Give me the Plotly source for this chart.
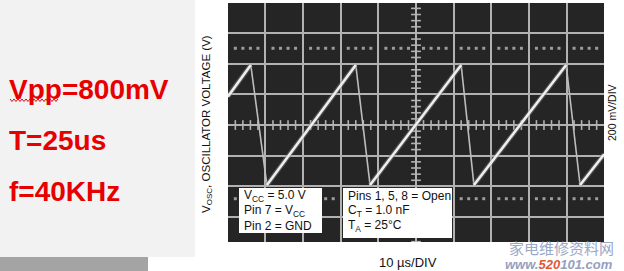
import plotly.graph_objects as go

W, H = 624, 271

# ---- data ----
time_us = [0, 6.1, 10.4, 34.0, 37.8, 62.0, 65.4, 89.9, 93.6, 100]
vosc_mV = [185, 391, -391, 391, -391, 391, -391, 391, -391, -190]

summary_lines = ["Vpp=800mV", "T=25us", "f=40KHz"]
box1_lines = ["V<sub>CC</sub> = 5.0 V", "Pin 7 = V<sub>CC</sub>", "Pin 2 = GND"]
box2_lines = ["Pins 1, 5, 8 = Open", "C<sub>T</sub> = 1.0 nF", "T<sub>A</sub> = 25°C"]

x_div_us = 10
y_div_mV = 200
x_range = [0.05, 99.95]
y_range = [-762, 795]
marker_rows_mV = [500, -480]


def px(x):
    return x / W


def py(y):
    return 1 - y / H


fig = go.Figure()

# rising (slow, bright) and falling (fast, dim) parts of the sawtooth
rx, ry, fx, fy = [], [], [], []
for i in range(len(time_us) - 1):
    seg_x = [time_us[i], time_us[i + 1], None]
    seg_y = [vosc_mV[i], vosc_mV[i + 1], None]
    if vosc_mV[i + 1] > vosc_mV[i]:
        rx += seg_x
        ry += seg_y
    else:
        fx += seg_x
        fy += seg_y

# graticule: minor ticks on centre lines and dotted 0%/100% rows
minor_x = [t for t in range(0, 101, 2) if t % x_div_us != 0]
minor_y = [v for v in range(-760, 800, 40) if v % y_div_mV != 0]
grid_col = "#b2b2b2"

fig.add_trace(go.Scatter(x=minor_x, y=[0] * len(minor_x), mode="markers",
                         marker=dict(symbol="line-ns", size=7, line=dict(width=1.6, color=grid_col)),
                         hoverinfo="skip", showlegend=False))
fig.add_trace(go.Scatter(x=[50] * len(minor_y), y=minor_y, mode="markers",
                         marker=dict(symbol="line-ew", size=7, line=dict(width=1.6, color=grid_col)),
                         hoverinfo="skip", showlegend=False))
for row in marker_rows_mV:
    fig.add_trace(go.Scatter(x=minor_x, y=[row] * len(minor_x), mode="markers",
                             marker=dict(symbol="square", size=3, color="#9c9c9c"),
                             hoverinfo="skip", showlegend=False))

fig.add_trace(go.Scatter(x=fx, y=fy, mode="lines", line=dict(color="#bdbdbd", width=1.6),
                         hoverinfo="skip", showlegend=False))
fig.add_trace(go.Scatter(x=rx, y=ry, mode="lines", line=dict(color="#7a7a7a", width=5),
                         opacity=0.5, hoverinfo="skip", showlegend=False))
fig.add_trace(go.Scatter(x=rx, y=ry, mode="lines", line=dict(color="#eeeeee", width=2.6),
                         hoverinfo="skip", showlegend=False))

shapes = []
# left slide panel
shapes.append(dict(type="rect", xref="paper", yref="paper", x0=px(0), x1=px(195), y0=py(257), y1=py(0),
                   fillcolor="#f2f2f2", line=dict(width=0), layer="below"))
shapes.append(dict(type="rect", xref="paper", yref="paper", x0=px(0), x1=px(148), y0=py(271), y1=py(257),
                   fillcolor="#a4a4a4", line=dict(width=0), layer="below"))
# squiggle under "Vpp"
pts = []
xs = 10
k = 0
while xs <= 58:
    yy = 99 if k % 2 == 0 else 101.5
    pts.append(f"{px(xs):.5f},{py(yy):.5f}")
    xs += 2
    k += 1
shapes.append(dict(type="path", xref="paper", yref="paper", path="M" + " L".join(pts),
                   line=dict(color="#d01010", width=1)))
# annotation boxes in the scope picture
shapes.append(dict(type="rect", xref="paper", yref="paper", x0=px(239), x1=px(322), y0=py(233), y1=py(188),
                   fillcolor="white", line=dict(width=0)))
shapes.append(dict(type="rect", xref="paper", yref="paper", x0=px(343), x1=px(452), y0=py(238), y1=py(188),
                   fillcolor="white", line=dict(width=0)))

ann = []
red_font = dict(family="Liberation Sans, Arial, sans-serif", size=28, color="#e60000")
for i, line in enumerate(summary_lines):
    ann.append(dict(text=f"<b>{line}</b>", xref="paper", yref="paper", x=px(7), y=py(89 + 51 * i),
                    xanchor="left", yanchor="middle", showarrow=False, font=red_font))

lab_font = dict(family="Liberation Sans, Arial, sans-serif", size=12, color="#111111")
for i, line in enumerate(box1_lines):
    ann.append(dict(text=line, xref="paper", yref="paper", x=px(242), y=py(196 + 15 * i),
                    xanchor="left", yanchor="middle", showarrow=False, font=lab_font))
for i, line in enumerate(box2_lines):
    ann.append(dict(text=line, xref="paper", yref="paper", x=px(346), y=py(196 + 15 * i),
                    xanchor="left", yanchor="middle", showarrow=False, font=lab_font))

ann.append(dict(text="V<sub>OSC</sub>, OSCILLATOR VOLTAGE (V)", xref="paper", yref="paper",
                x=px(207), y=py(124), textangle=-90, xanchor="center", yanchor="middle",
                showarrow=False, font=dict(family="Liberation Sans, Arial, sans-serif", size=11.5,
                                           color="#111111")))
ann.append(dict(text="200 mV/DIV", xref="paper", yref="paper", x=px(612), y=py(113), textangle=-90,
                xanchor="center", yanchor="middle", showarrow=False,
                font=dict(family="Liberation Sans, Arial, sans-serif", size=10.5, color="#111111")))
ann.append(dict(text="10 µs/DIV", xref="paper", yref="paper", x=px(408), y=py(262),
                xanchor="center", yanchor="middle", showarrow=False,
                font=dict(family="Liberation Sans, Arial, sans-serif", size=13, color="#111111")))
# watermark
ann.append(dict(text="家电维修资料网", xref="paper", yref="paper", x=px(561), y=py(247),
                xanchor="center", yanchor="middle", showarrow=False,
                font=dict(family="Noto Sans CJK SC", size=15, color="#9ba8c6")))
ann.append(dict(text="<b><i>www.<span style='color:#e2583a'>520</span>101.com</i></b>", xref="paper", yref="paper",
                x=px(559), y=py(264), xanchor="center", yanchor="middle", showarrow=False,
                font=dict(family="Liberation Sans, Arial, sans-serif", size=13, color="#93a0c0")))

axis_common = dict(showticklabels=False, ticks="", zeroline=False, showline=False,
                   showgrid=True, gridcolor=grid_col, gridwidth=1.6, fixedrange=True)

fig.update_layout(
    width=W, height=H, autosize=False,
    margin=dict(l=0, r=0, t=0, b=0, pad=0),
    paper_bgcolor="white", plot_bgcolor="#252525",
    xaxis=dict(domain=[px(228), px(604)], range=x_range, dtick=x_div_us, tick0=0, **axis_common),
    yaxis=dict(domain=[py(242), py(3)], range=y_range, dtick=y_div_mV, tick0=0, **axis_common),
    shapes=shapes, annotations=ann, showlegend=False,
)

fig.write_html("out.html")
